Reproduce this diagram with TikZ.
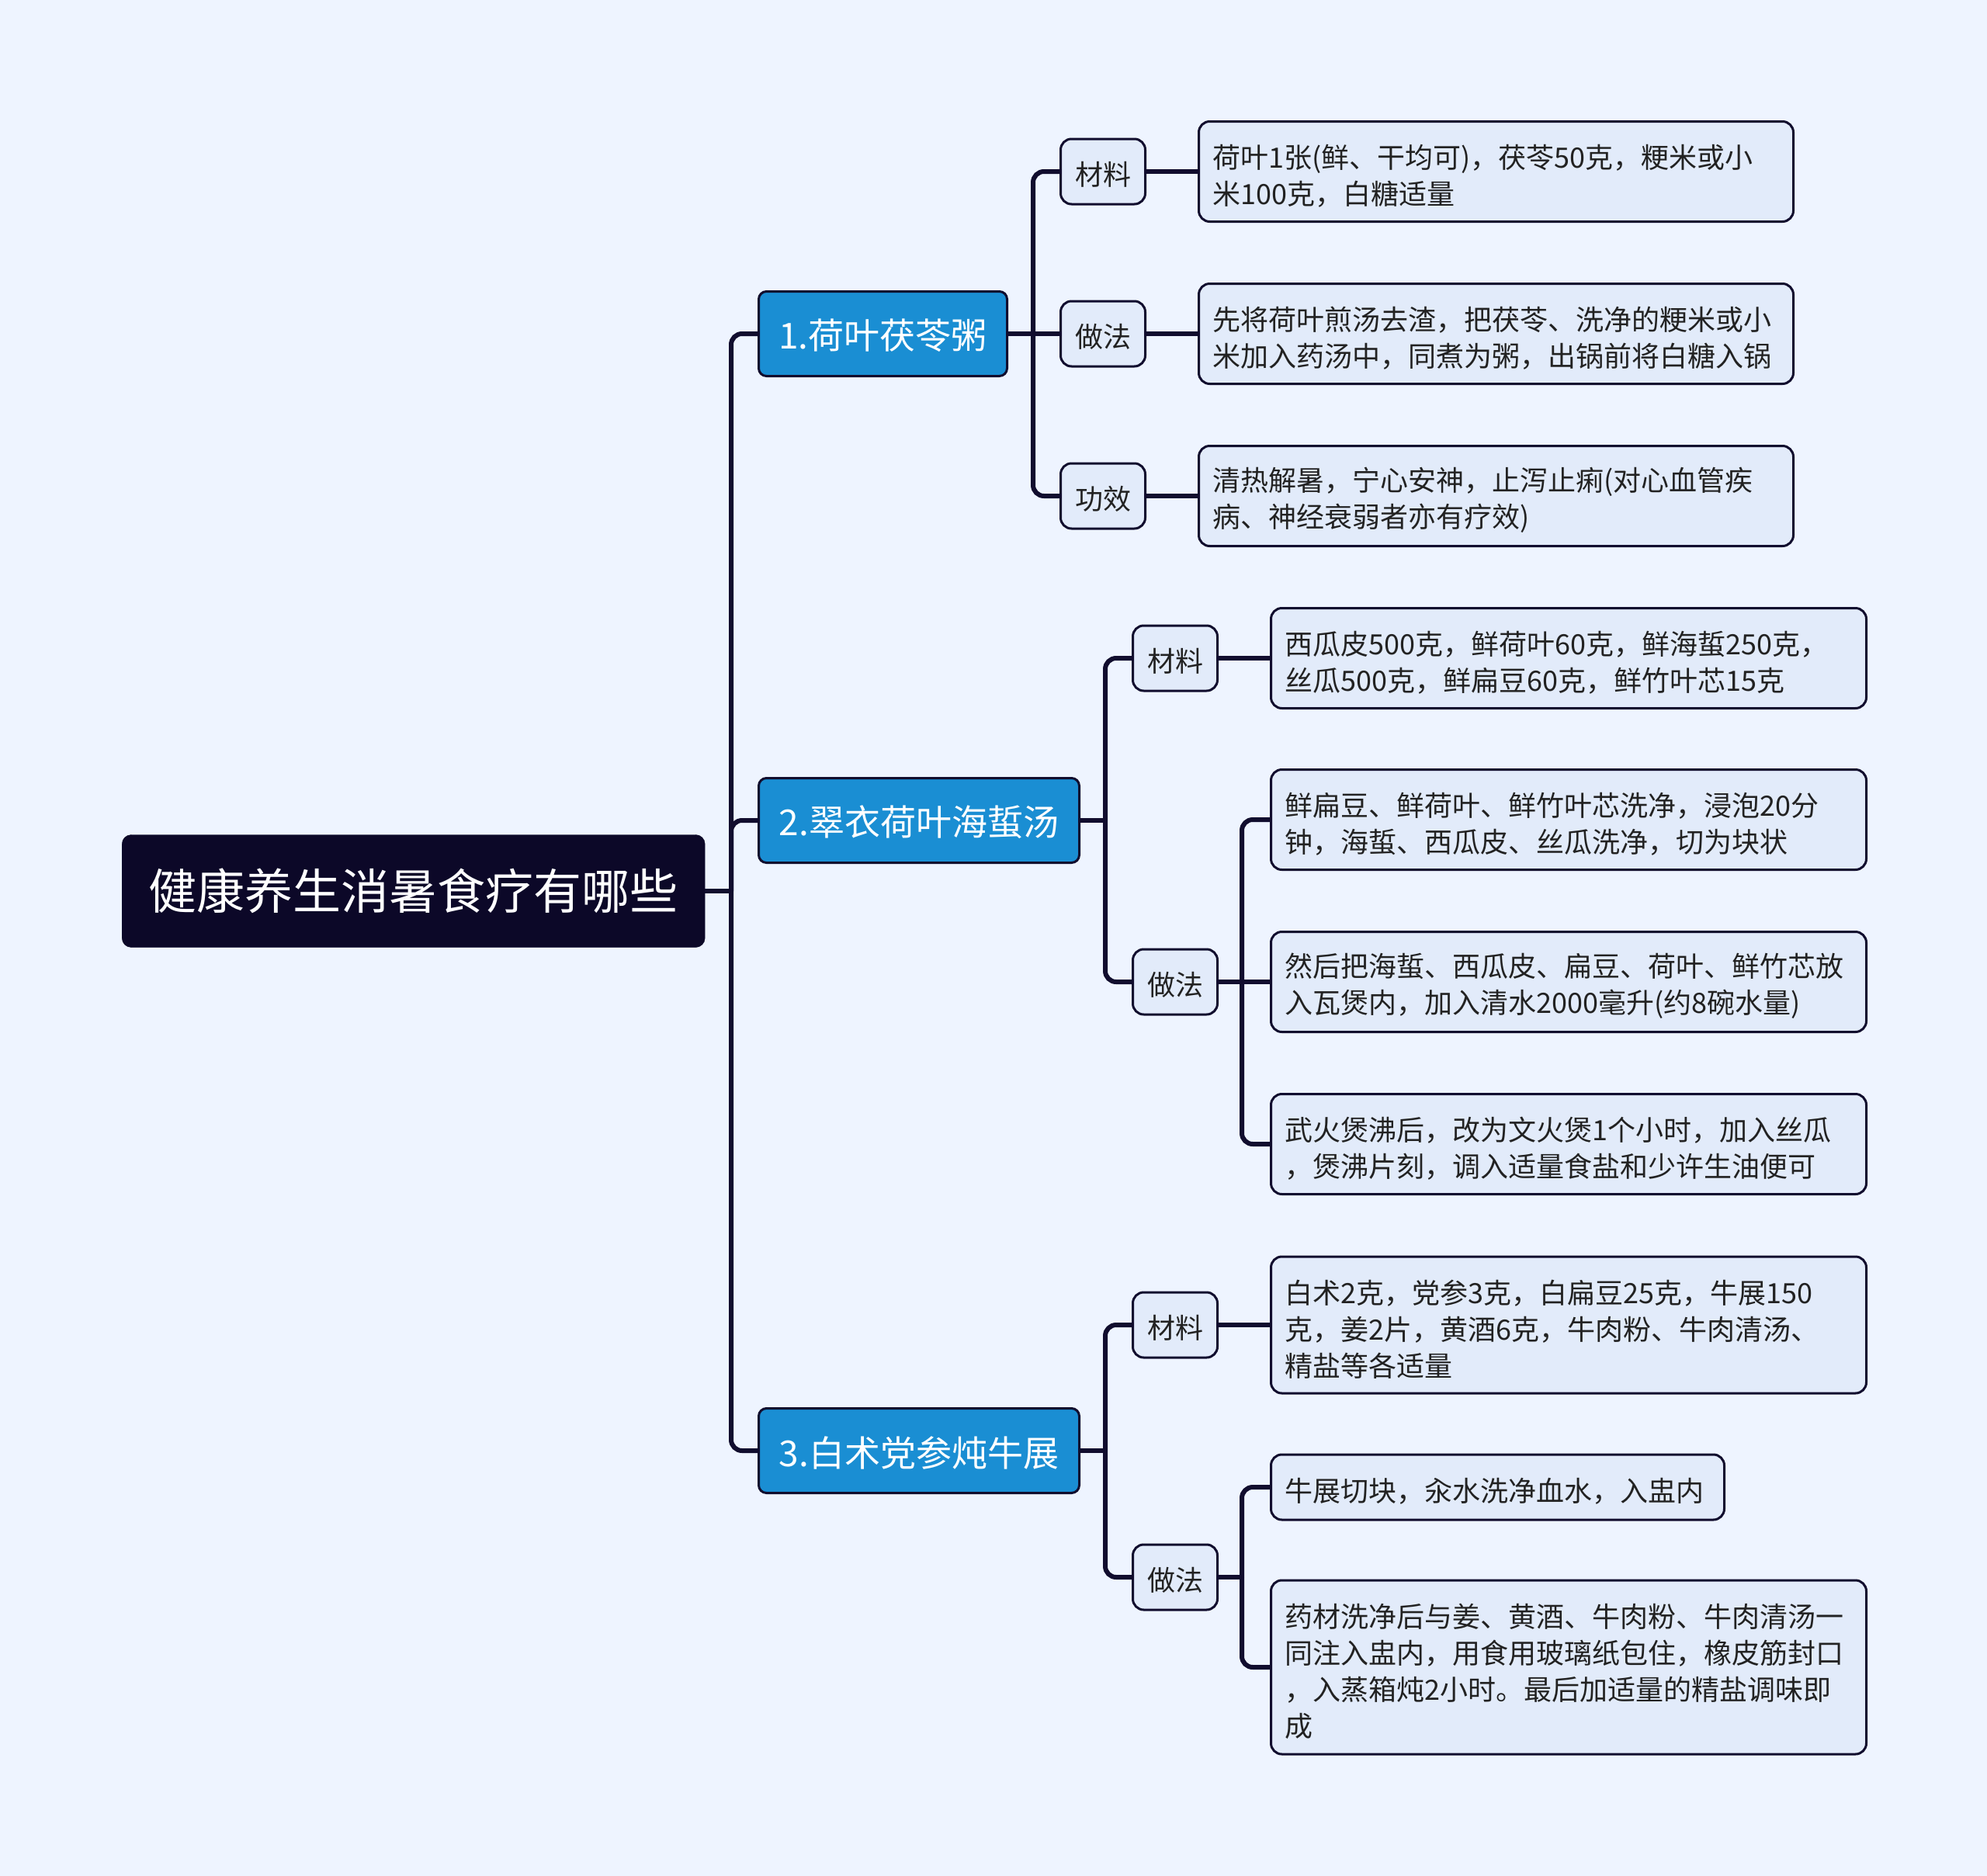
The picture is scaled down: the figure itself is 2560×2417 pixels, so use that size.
\documentclass[tikz,border=0pt]{standalone}
\usepackage{fontspec}
\setmainfont{Noto Sans CJK SC}
\definecolor{bg}{HTML}{EEF4FF}
\definecolor{linec}{HTML}{110D2E}
\definecolor{rootc}{HTML}{0C0828}
\definecolor{l1c}{HTML}{1A8ED3}
\definecolor{boxc}{HTML}{E2EBFA}
\definecolor{txtc}{HTML}{222222}
\begin{document}
\begin{tikzpicture}[x=1pt,y=-1pt,
 conn/.style={draw=linec, line width=6pt},
 rconn/.style={draw=linec, line width=6pt, rounded corners=14pt},
 rootbox/.style={draw=rootc, fill=rootc, rounded corners=12pt, text=white, font=\fontsize{62}{70}\selectfont, minimum width=751pt, minimum height=145pt, inner sep=0pt, anchor=west},
 lonebox/.style={draw=linec, line width=3pt, fill=l1c, rounded corners=10pt, text=white, font=\fontsize{46}{54}\selectfont, minimum height=109pt, inner sep=0pt, anchor=west, execute at begin node={\rule{0pt}{44pt}}},
 ltwobox/.style={draw=linec, line width=3pt, fill=boxc, rounded corners=14pt, text=txtc, font=\fontsize{36}{47}\selectfont, minimum width=109pt, minimum height=84pt, inner sep=0pt, anchor=west, execute at begin node={\rule{0pt}{37pt}}},
 lthreebox/.style={draw=linec, line width=3pt, fill=boxc, rounded corners=14pt, text=txtc, font=\fontsize{36}{47}\selectfont, align=left, inner xsep=18pt, inner ysep=0pt, anchor=west, execute at begin node={\rule{0pt}{41pt}}},
]
\fill[bg] (0,0) rectangle (2560,2417);
\useasboundingbox (0,0) rectangle (2560,2417);

% root
\node[rootbox] (root) at (157,1148) {健康养生消暑食疗有哪些};

% level 1
\node[lonebox, minimum width=320pt] (n1) at (976,430) {1.荷叶茯苓粥};
\node[lonebox, minimum width=413pt] (n2) at (976,1057) {2.翠衣荷叶海蜇汤};
\node[lonebox, minimum width=413pt] (n3) at (976,1869) {3.白术党参炖牛展};

% level 2
\node[ltwobox] (a1) at (1365,221) {材料};
\node[ltwobox] (b1) at (1365,430) {做法};
\node[ltwobox] (c1) at (1365,639) {功效};
\node[ltwobox] (a2) at (1458,848) {材料};
\node[ltwobox] (b2) at (1458,1265) {做法};
\node[ltwobox] (a3) at (1458,1707) {材料};
\node[ltwobox] (b3) at (1458,2032) {做法};

% level 3
\node[lthreebox, text width=730pt, minimum height=129pt] (a1x) at (1543,221) {荷叶1张(鲜、干均可)，茯苓50克，粳米或小\\米100克，白糖适量};
\node[lthreebox, text width=730pt, minimum height=129pt] (b1x) at (1543,430) {先将荷叶煎汤去渣，把茯苓、洗净的粳米或小\\米加入药汤中，同煮为粥，出锅前将白糖入锅};
\node[lthreebox, text width=730pt, minimum height=129pt] (c1x) at (1543,639) {清热解暑，宁心安神，止泻止痢(对心血管疾\\病、神经衰弱者亦有疗效)};

\node[lthreebox, text width=731pt, minimum height=129pt] (a2x) at (1636,848) {西瓜皮500克，鲜荷叶60克，鲜海蜇250克，\\丝瓜500克，鲜扁豆60克，鲜竹叶芯15克};
\node[lthreebox, text width=731pt, minimum height=129pt] (b2x) at (1636,1056) {鲜扁豆、鲜荷叶、鲜竹叶芯洗净，浸泡20分\\钟，海蜇、西瓜皮、丝瓜洗净，切为块状};
\node[lthreebox, text width=731pt, minimum height=129pt] (b2y) at (1636,1265) {然后把海蜇、西瓜皮、扁豆、荷叶、鲜竹芯放\\入瓦煲内，加入清水2000毫升(约8碗水量)};
\node[lthreebox, text width=731pt, minimum height=129pt] (b2z) at (1636,1474) {武火煲沸后，改为文火煲1个小时，加入丝瓜\\，煲沸片刻，调入适量食盐和少许生油便可};

\node[lthreebox, text width=731pt, minimum height=176pt] (a3x) at (1636,1707) {白术2克，党参3克，白扁豆25克，牛展150\\克，姜2片，黄酒6克，牛肉粉、牛肉清汤、\\精盐等各适量};
\node[lthreebox, text width=548pt, minimum height=84pt] (b3x) at (1636,1916) {牛展切块，汆水洗净血水，入盅内};
\node[lthreebox, text width=731pt, minimum height=224pt] (b3y) at (1636,2148) {药材洗净后与姜、黄酒、牛肉粉、牛肉清汤一\\同注入盅内，用食用玻璃纸包住，橡皮筋封口\\，入蒸箱炖2小时。最后加适量的精盐调味即\\成};

% junction coordinates
\coordinate (jr) at (942,1148);
\coordinate (j1) at (1331,430);
\coordinate (j2) at (1424,1057);
\coordinate (j3) at (1424,1869);
\coordinate (k2) at (1600,1265);
\coordinate (k3) at (1600,2032);

% connectors root
\draw[conn] (root.east) -- (jr);
\draw[rconn] (jr) |- (n1.west);
\draw[rconn] (jr) |- (n2.west);
\draw[rconn] (jr) |- (n3.west);

% group 1
\draw[conn] (n1.east) -- (j1);
\draw[rconn] (j1) |- (a1.west);
\draw[conn] (j1) -- (b1.west);
\draw[rconn] (j1) |- (c1.west);
\draw[conn] (a1.east) -- (a1x.west);
\draw[conn] (b1.east) -- (b1x.west);
\draw[conn] (c1.east) -- (c1x.west);

% group 2
\draw[conn] (n2.east) -- (j2);
\draw[rconn] (j2) |- (a2.west);
\draw[rconn] (j2) |- (b2.west);
\draw[conn] (a2.east) -- (a2x.west);
\draw[conn] (b2.east) -- (k2);
\draw[rconn] (k2) |- (b2x.west);
\draw[conn] (k2) -- (b2y.west);
\draw[rconn] (k2) |- (b2z.west);

% group 3
\draw[conn] (n3.east) -- (j3);
\draw[rconn] (j3) |- (a3.west);
\draw[rconn] (j3) |- (b3.west);
\draw[conn] (a3.east) -- (a3x.west);
\draw[conn] (b3.east) -- (k3);
\draw[rconn] (k3) |- (b3x.west);
\draw[rconn] (k3) |- (b3y.west);
\end{tikzpicture}
\end{document}
